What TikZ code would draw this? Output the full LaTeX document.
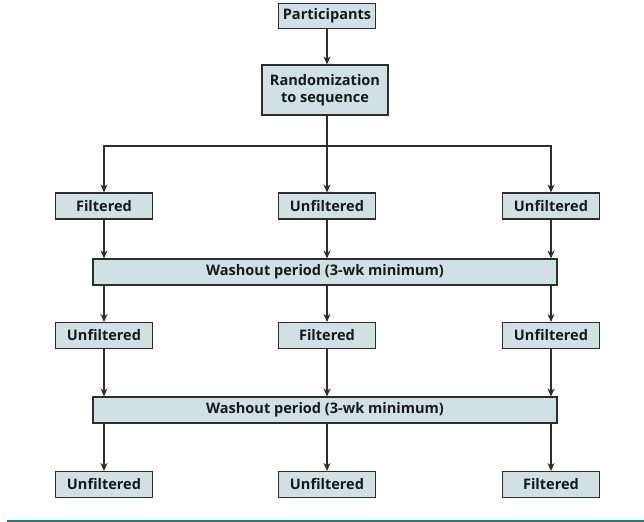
\documentclass[tikz,border=0pt]{standalone}
\usepackage{fontspec}
\setmainfont{Open Sans}
\usetikzlibrary{arrows.meta,calc}
\definecolor{boxfill}{RGB}{207,225,228}
\definecolor{edge}{RGB}{45,45,45}
\definecolor{teal}{RGB}{30,125,125}
\begin{document}
\begin{tikzpicture}[x=1bp,y=-1bp,
  box/.style={draw=edge,line width=1.1bp,fill=boxfill,inner xsep=4bp,inner ysep=2bp,
    font=\fontsize{14.6}{17.5}\selectfont\bfseries,text=black!90,align=center},
  rowbox/.style={box,minimum width=97bp,minimum height=26bp},
  wbox/.style={box,minimum width=464bp,minimum height=26bp},
  conn/.style={draw=edge,line width=1.1bp},
  arr/.style={conn,-{Stealth[length=8bp,width=7bp,inset=2.5bp]}}]
\useasboundingbox (0,0) rectangle (644,522);
\node[box,minimum height=25bp] (p) at (327,16) {Participants};
\node[box,minimum width=126bp,minimum height=50bp] (r) at (325,90) {Randomization\\to sequence};
\coordinate (b) at (327,146);
\node[rowbox] (a1) at (104,206) {Filtered};
\node[rowbox] (b1) at (327,206) {Unfiltered};
\node[rowbox] (c1) at (551,206) {Unfiltered};
\node[wbox] (w1) at (325,272) {Washout period (3-wk minimum)};
\node[rowbox] (a2) at (104,335.5) {Unfiltered};
\node[rowbox] (b2) at (327,335.5) {Filtered};
\node[rowbox] (c2) at (551,335.5) {Unfiltered};
\node[wbox] (w2) at (325,410) {Washout period (3-wk minimum)};
\node[rowbox] (a3) at (104,484.5) {Unfiltered};
\node[rowbox] (b3) at (327,484.5) {Unfiltered};
\node[rowbox] (c3) at (551,484.5) {Filtered};
\draw[arr] (p) -- (p |- r.north);
\draw[arr] (b |- r.south) -- (b1);
\draw[arr] (b) -| (a1);
\draw[arr] (b) -| (c1);
\foreach \n/\w in {a1/w1,b1/w1,c1/w1,a2/w2,b2/w2,c2/w2}{
  \draw[arr] (\n.south) -- (\n.south |- \w.north);
}
\foreach \w/\n in {w1/a2,w1/b2,w1/c2,w2/a3,w2/b3,w2/c3}{
  \draw[arr] (\n.north |- \w.south) -- (\n.north);
}
\draw[teal,line width=2bp] (7,521) -- (644,521);
\end{tikzpicture}
\end{document}
